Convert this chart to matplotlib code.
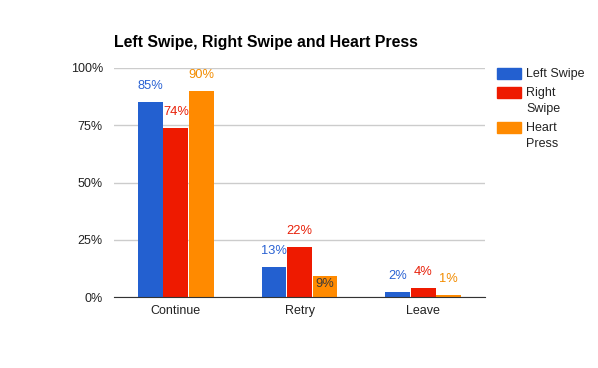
import numpy as np
import matplotlib.pyplot as plt
from matplotlib.patches import Rectangle

plt.rcParams['font.family'] = ['Liberation Sans', 'DejaVu Sans']

categories = ['Continue', 'Retry', 'Leave']
series = ['Left Swipe', 'Right Swipe', 'Heart Press']
legend_lines = [['Left Swipe'], ['Right', 'Swipe'], ['Heart', 'Press']]
values = {
    'Left Swipe': [85, 13, 2],
    'Right Swipe': [74, 22, 4],
    'Heart Press': [90, 9, 1],
}
colors = ['#2360d0', '#ee1a00', '#ff8a00']
label_colors = ['#2a62d3', '#e8210a', '#f28c00']
yticks = [0, 25, 50, 75, 100]

fig = plt.figure(figsize=(5.98, 3.68), dpi=100)
ax = fig.add_axes([114 / 598, 1 - 297 / 368, 371 / 598, 229 / 368])

x = np.arange(len(categories))
width = 0.2
for i, name in enumerate(series):
    pos = x + (i - 1) * 0.207
    vals = values[name]
    ax.bar(pos, vals, width=width, color=colors[i], zorder=3)
    for k, (p, v) in enumerate(zip(pos, vals)):
        if name == 'Heart Press' and categories[k] == 'Retry':
            # no room above -> label goes inside the bar
            ax.annotate(f'{v}%', (p, v), xytext=(0, -5.5), textcoords='offset points',
                        ha='center', va='center', fontsize=9.3, color='#3a3a3a', zorder=4)
        else:
            ax.annotate(f'{v}%', (p, v), xytext=(0, 11.5), textcoords='offset points',
                        ha='center', va='center', fontsize=9.3, color=label_colors[i], zorder=4)

ax.set_xlim(-0.5, 2.5)
ax.set_ylim(0, 100)
ax.set_yticks(yticks)
ax.set_yticklabels([f'{t}%' for t in yticks], fontsize=9, color='#222222')
ax.set_xticks(x)
ax.set_xticklabels(categories, fontsize=9, color='#222222')
ax.tick_params(length=0, pad=8)
ax.tick_params(axis='x', pad=6)
ax.grid(axis='y', color='#cccccc', linewidth=1, zorder=0)
for s in ['top', 'right', 'left']:
    ax.spines[s].set_visible(False)
ax.spines['bottom'].set_color('#333333')
ax.spines['bottom'].set_zorder(5)

fig.text(114 / 598, 1 - 42 / 368, 'Left Swipe, Right Swipe and Heart Press',
         fontsize=11.4, fontweight='bold', ha='left', va='center', color='#000000')

# legend
tops = [68, 87, 122]
for i, lines in enumerate(legend_lines):
    top = tops[i]
    fig.add_artist(Rectangle((497 / 598, 1 - (top + 11) / 368), 24 / 598, 11 / 368,
                             transform=fig.transFigure, color=colors[i]))
    for j, line in enumerate(lines):
        fig.text(526 / 598, 1 - (top + 6 + 16 * j) / 368, line, fontsize=9,
                 ha='left', va='center', color='#222222')

fig.savefig('out.png', dpi=100)
